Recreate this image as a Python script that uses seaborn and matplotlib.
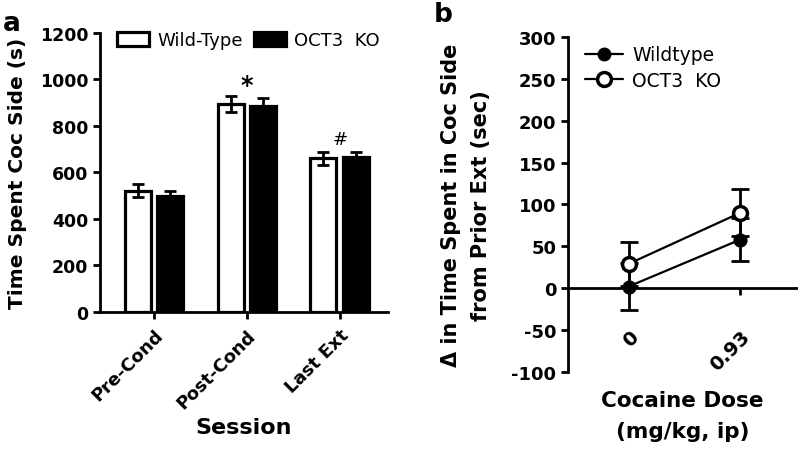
import numpy as np
import pandas as pd
import matplotlib.pyplot as plt
import seaborn as sns
from matplotlib.patches import Patch
from matplotlib.lines import Line2D

# panel a data
sessions = ["Pre-Cond", "Post-Cond", "Last Ext"]
wt_time = [522, 895, 661]
wt_sem = [29, 33, 28]
ko_time = [500, 887, 668]
ko_sem = [22, 33, 21]

# panel b data
doses = ["0", "0.93"]
wt_delta = [2, 58]
wt_delta_sem = [28, 26]
ko_delta = [29, 90]
ko_delta_sem = [26, 28]

sns.set_style("ticks")
plt.rcParams['font.family'] = ['DejaVu Sans']
plt.rcParams['font.weight'] = 'bold'
plt.rcParams['axes.unicode_minus'] = False
for k in ['text.color', 'axes.labelcolor', 'xtick.color', 'ytick.color', 'axes.edgecolor']:
    plt.rcParams[k] = 'black'

fig = plt.figure(figsize=(7.98, 4.56), dpi=100)
ax1 = fig.add_axes([0.1253, 0.3136, 0.361, 0.612])
ax2 = fig.add_axes([0.712, 0.182, 0.287, 0.735])

# ---- panel a: bars
df_a = pd.DataFrame({
    "Session": sessions * 2,
    "Time": wt_time + ko_time,
    "Group": ["Wild-Type"] * 3 + ["OCT3  KO"] * 3,
})
sns.barplot(data=df_a, x="Session", y="Time", hue="Group",
            palette=["white", "black"], edgecolor="black", linewidth=2.3,
            width=0.7, gap=0.2, errorbar=None, legend=False, ax=ax1)

sems = wt_sem + ko_sem
for patch, val, err in zip(ax1.patches, wt_time + ko_time, sems):
    cx = patch.get_x() + patch.get_width() / 2
    ax1.errorbar(cx, val, yerr=err, color="black", capsize=4.5,
                 elinewidth=2, capthick=2, zorder=1)

ax1.set_ylim(0, 1200)
ax1.set_xlim(-0.58, 2.52)
ax1.set_yticks(range(0, 1201, 200))
ax1.set_xlabel("Session", fontsize=16, fontweight="bold", labelpad=4)
ax1.set_ylabel("Time Spent Coc Side (s)", fontsize=14.5, fontweight="bold", labelpad=9)
for s in ["top", "right"]:
    ax1.spines[s].set_visible(False)
for s in ["left", "bottom"]:
    ax1.spines[s].set_linewidth(2)
ax1.tick_params(width=2, length=5, labelsize=12.5)
ax1.tick_params(axis="x", labelsize=13, pad=5)
plt.setp(ax1.get_xticklabels(), rotation=45, ha="right", rotation_mode="anchor",
         fontweight="bold")
plt.setp(ax1.get_yticklabels(), fontweight="bold")

top_post = wt_time[1] + wt_sem[1]
top_last = wt_time[2] + wt_sem[2]
ax1.text(1, top_post + 18, "*", ha="center", va="baseline", fontsize=17, fontweight="bold")
ax1.text(2, top_last + 32, "#", ha="center", va="baseline", fontsize=13, fontweight="normal")

leg_a = [Patch(facecolor="white", edgecolor="black", linewidth=2.3),
         Patch(facecolor="black", edgecolor="black", linewidth=2.3)]
ax1.legend(leg_a, ["Wild-Type", "OCT3  KO"], ncol=2, frameon=False,
           loc="upper left", bbox_to_anchor=(0.02, 1.045),
           handlelength=1.8, handleheight=0.8, handletextpad=0.45,
           columnspacing=0.6, borderaxespad=0.2,
           prop={"size": 13, "weight": "normal"})

# ---- panel b: points
df_b = pd.DataFrame({
    "Dose": doses * 2,
    "Delta": wt_delta + ko_delta,
    "Group": ["Wildtype"] * 2 + ["OCT3  KO"] * 2,
})
xs = np.arange(len(doses))
ax2.errorbar(xs, wt_delta, yerr=wt_delta_sem, fmt="none", ecolor="black",
             capsize=6.5, elinewidth=2, capthick=2, zorder=2)
ax2.errorbar(xs, ko_delta, yerr=ko_delta_sem, fmt="none", ecolor="black",
             capsize=6.5, elinewidth=2, capthick=2, zorder=2)
sns.pointplot(data=df_b[df_b.Group == "Wildtype"], x="Dose", y="Delta",
              color="black", markers="o", errorbar=None, ax=ax2,
              markersize=9, linewidth=1.6, zorder=3)
sns.pointplot(data=df_b[df_b.Group == "OCT3  KO"], x="Dose", y="Delta",
              color="black", markers="o", errorbar=None, ax=ax2,
              markersize=10, linewidth=1.6, markerfacecolor="white",
              markeredgewidth=2.5, zorder=4)

ax2.set_ylim(-100, 300)
ax2.set_xlim(-0.54, 1.51)
ax2.set_yticks(range(-100, 301, 50))
ax2.spines["bottom"].set_position(("data", 0))
for s in ["top", "right"]:
    ax2.spines[s].set_visible(False)
for s in ["left", "bottom"]:
    ax2.spines[s].set_linewidth(2)
ax2.tick_params(width=2, length=5, labelsize=13)
ax2.tick_params(axis="x", pad=23, labelsize=14)
plt.setp(ax2.get_xticklabels(), rotation=45, ha="right", rotation_mode="anchor",
         fontweight="bold")
plt.setp(ax2.get_yticklabels(), fontweight="bold")
ax2.set_xlabel("Cocaine Dose\n(mg/kg, ip)", fontsize=15.5, fontweight="bold",
               linespacing=1.65)
ax2.xaxis.set_label_coords(0.5, -0.055)
ax2.xaxis.label.set_va("top")
ax2.set_ylabel("\u0394 in Time Spent in Coc Side\nfrom Prior Ext (sec)",
               fontsize=15, fontweight="bold", labelpad=15, linespacing=1.6)

leg_b = [Line2D([], [], color="black", marker="o", markersize=9, linewidth=1.6),
         Line2D([], [], color="black", marker="o", markersize=10, linewidth=1.6,
                markerfacecolor="white", markeredgewidth=2.5)]
ax2.legend(leg_b, ["Wildtype", "OCT3  KO"], frameon=False, loc="upper left",
           bbox_to_anchor=(0.0, 1.025), handlelength=2.0, handletextpad=0.5,
           labelspacing=0.35, prop={"size": 13.5, "weight": "normal"})

fig.text(0.003, 0.975, "a", fontsize=19, fontweight="bold", va="top")
fig.text(0.543, 0.995, "b", fontsize=19, fontweight="bold", va="top")

fig.savefig("out.png", dpi=100)
